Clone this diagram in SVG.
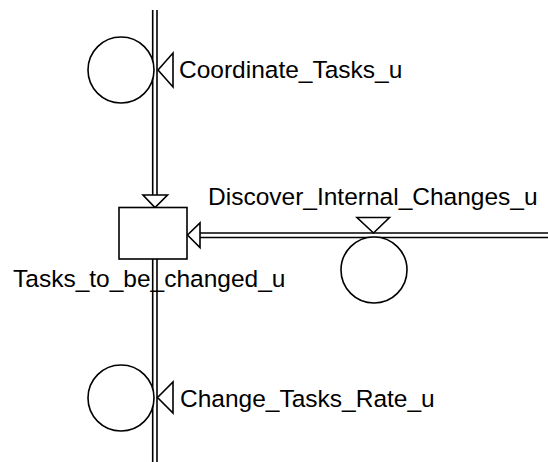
<svg xmlns="http://www.w3.org/2000/svg" width="548" height="462" viewBox="0 0 548 462">
<style>
.s{fill:#fff;stroke:#000;stroke-width:1.6}
.l{fill:none;stroke:#000;stroke-width:1.6}
.t{font-family:"Liberation Sans",Arial,sans-serif;font-size:24.5px;fill:#000}
</style>
<rect width="548" height="462" fill="#fff"/>
<g id="connectors">
<line class="l" x1="152.7" y1="10" x2="152.7" y2="195"/>
<line class="l" x1="157" y1="10" x2="157" y2="195"/>
<polygon class="s" points="143,195 167.5,195 155,207.5"/>
<line class="l" x1="548" y1="233" x2="200" y2="233"/>
<line class="l" x1="548" y1="237.5" x2="200" y2="237.5"/>
<polygon class="s" points="200,223 200,247.5 187.5,235"/>
<line class="l" x1="152.7" y1="259" x2="152.7" y2="462"/>
<line class="l" x1="157" y1="259" x2="157" y2="462"/>
</g>
<g id="Tasks_to_be_changed_u">
<rect class="s" x="119" y="207.5" width="68" height="51.5"/>
<text class="t" x="13" y="287">Tasks_to_be_changed_u</text>
</g>
<g id="Coordinate_Tasks_u">
<circle class="s" cx="121" cy="70" r="33"/>
<polygon class="s" points="158,70 173,53 173,87"/>
<text class="t" x="179" y="78">Coordinate_Tasks_u</text>
</g>
<g id="Discover_Internal_Changes_u">
<circle class="s" cx="374" cy="270" r="33"/>
<polygon class="s" points="357,217.5 389.5,217.5 373.5,233"/>
<text class="t" x="208" y="205">Discover_Internal_Changes_u</text>
</g>
<g id="Change_Tasks_Rate_u">
<circle class="s" cx="121" cy="398" r="33"/>
<polygon class="s" points="157.5,397.5 173,382 173,413"/>
<text class="t" x="180" y="407">Change_Tasks_Rate_u</text>
</g>
</svg>
